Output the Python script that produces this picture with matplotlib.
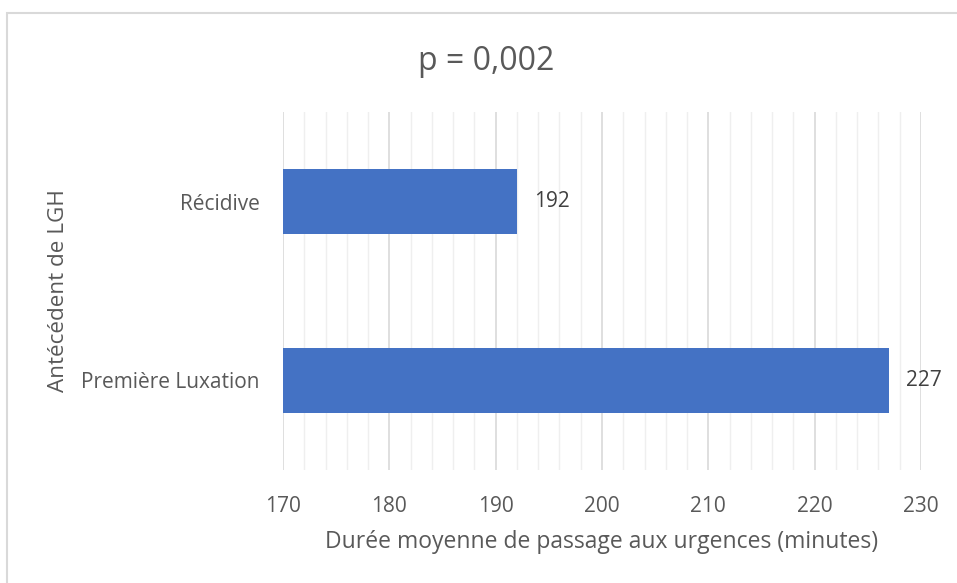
import matplotlib.pyplot as plt
from matplotlib.patches import Rectangle
from matplotlib.ticker import MultipleLocator

categories = ['Première Luxation', 'Récidive']
values = [227, 192]
x_ticks = [170, 180, 190, 200, 210, 220, 230]

bar_color = '#4472C4'
text_color = '#595959'


def main():
    plt.rcParams['font.family'] = ['Open Sans', 'DejaVu Sans']

    fig = plt.figure(figsize=(9.57, 5.83), dpi=100)
    # chart area border (runs off the right and bottom of the picture)
    fig.patches.append(Rectangle((7 / 957, -0.05), 1.0, 1 - 13 / 583 + 0.05, transform=fig.transFigure,
                                 fill=False, edgecolor='#D9D9D9', linewidth=1.5))
    ax = fig.add_axes([283 / 957, 113 / 583, 638 / 957, 358 / 583])

    ypos = list(range(len(categories)))
    ax.barh(ypos, [v - 170 for v in values], left=170, height=0.36, color=bar_color, zorder=3)
    for y, v in zip(ypos, values):
        ax.text(v + 1.6, y, str(v), va='center', ha='left', fontsize=15, color='#404040', zorder=4)

    ax.set_xlim(170, 230)
    ax.set_ylim(-0.5, 1.5)
    ax.set_xticks(x_ticks)
    ax.xaxis.set_minor_locator(MultipleLocator(2))
    ax.set_yticks(ypos)
    ax.set_yticklabels(categories)
    ax.grid(True, axis='x', which='major', color='#D9D9D9', linewidth=1.2, zorder=0)
    ax.grid(True, axis='x', which='minor', color='#EFEFEF', linewidth=1.0, zorder=0)
    ax.tick_params(axis='both', which='both', length=0, labelsize=15, labelcolor=text_color)
    ax.tick_params(axis='x', pad=19)
    ax.tick_params(axis='y', pad=17)
    for s in ax.spines.values():
        s.set_visible(False)

    ax.set_xlabel('Durée moyenne de passage aux urgences (minutes)', fontsize=16.5, color=text_color, labelpad=9)
    ax.set_ylabel('Antécédent de LGH', fontsize=16.2, color=text_color)
    ax.yaxis.set_label_coords(-0.335, 0.5)
    fig.text(486 / 957, 1 - 61 / 583, 'p = 0,002', ha='center', va='center', fontsize=23, color='#595959')

    fig.savefig('out.png', dpi=100)


if __name__ == '__main__':
    main()
